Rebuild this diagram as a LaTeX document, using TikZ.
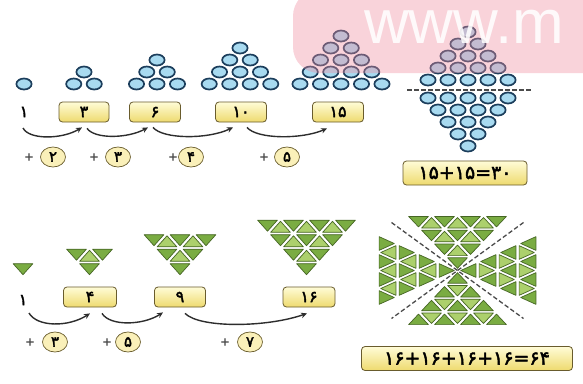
\documentclass[tikz,border=0pt]{standalone}
\usepackage{fontspec}
\usetikzlibrary{arrows.meta,shapes.geometric,calc}
\newfontfamily\pdig{DejaVu Sans}[FakeBold=2.2]
\newfontfamily\wmfont{Liberation Sans}
\definecolor{ballfill}{RGB}{168,218,240}
\definecolor{ballline}{RGB}{28,62,92}
\definecolor{boxtop}{RGB}{255,252,215}
\definecolor{boxbot}{RGB}{238,218,110}
\definecolor{boxline}{RGB}{105,92,45}
\definecolor{tagfill}{RGB}{250,240,185}
\definecolor{arrowc}{RGB}{45,45,45}
\definecolor{gdark}{RGB}{122,172,66}
\definecolor{glight}{RGB}{172,208,108}
\definecolor{gline}{RGB}{70,102,36}
\definecolor{dashc}{RGB}{75,75,75}
\definecolor{wmpink}{RGB}{240,140,160}
\def\TF{0.76}
% one small triangle, shrunk towards its centroid
\newcommand\stri[7]{%
  \pgfmathsetmacro\sAa{#1}\pgfmathsetmacro\sAb{#2}%
  \pgfmathsetmacro\sBa{#3}\pgfmathsetmacro\sBb{#4}%
  \pgfmathsetmacro\sCa{#5}\pgfmathsetmacro\sCb{#6}%
  \pgfmathsetmacro\sMa{(\sAa+\sBa+\sCa)/3}%
  \pgfmathsetmacro\sMb{(\sAb+\sBb+\sCb)/3}%
  \pgfmathsetmacro\sPa{(\sMa)+\TF*((\sAa)-(\sMa))}\pgfmathsetmacro\sPb{(\sMb)+\TF*((\sAb)-(\sMb))}%
  \pgfmathsetmacro\sQa{(\sMa)+\TF*((\sBa)-(\sMa))}\pgfmathsetmacro\sQb{(\sMb)+\TF*((\sBb)-(\sMb))}%
  \pgfmathsetmacro\sRa{(\sMa)+\TF*((\sCa)-(\sMa))}\pgfmathsetmacro\sRb{(\sMb)+\TF*((\sCb)-(\sMb))}%
  \pgfmathsetmacro\xA{\TAx+(\sPa)*(\TUx)+(\sPb)*(\TVx)}\pgfmathsetmacro\yA{\TAy+(\sPa)*(\TUy)+(\sPb)*(\TVy)}%
  \pgfmathsetmacro\xB{\TAx+(\sQa)*(\TUx)+(\sQb)*(\TVx)}\pgfmathsetmacro\yB{\TAy+(\sQa)*(\TUy)+(\sQb)*(\TVy)}%
  \pgfmathsetmacro\xC{\TAx+(\sRa)*(\TUx)+(\sRb)*(\TVx)}\pgfmathsetmacro\yC{\TAy+(\sRa)*(\TUy)+(\sRb)*(\TVy)}%
  \filldraw[#7] (\xA,\yA) -- (\xB,\yB) -- (\xC,\yC) -- cycle;}
% triangle of n^2 small triangles; apex, row vector u, half-width vector v
\newcommand\trilat[7]{%
  \def\TAx{#2}\def\TAy{#3}\def\TUx{#4}\def\TUy{#5}\def\TVx{#6}\def\TVy{#7}%
  \foreach \tj in {1,...,#1}{%
    \pgfmathtruncatemacro\tjm{\tj-1}%
    \foreach \ti in {0,...,\tjm}{%
      \pgfmathsetmacro\tb{-\tj+2*\ti}%
      \stri{\tj}{\tb}{\tj}{\tb+2}{\tj-1}{\tb+1}{gdn}}%
    \ifnum\tj>1
      \pgfmathtruncatemacro\tjmm{\tj-2}%
      \foreach \ti in {0,...,\tjmm}{%
        \pgfmathsetmacro\tb{-\tj+1+2*\ti}%
        \stri{\tj-1}{\tb}{\tj-1}{\tb+2}{\tj}{\tb+1}{gup}}%
    \fi}}
% pyramid of balls: centre x, first row y, n, row step, ball step
\newcommand\pyr[5]{%
  \foreach \pyrk in {1,...,#3}{%
    \pgfmathtruncatemacro\pyrm{#3-\pyrk+1}%
    \foreach \pyri in {1,...,\pyrm}{%
      \path[ball] ({#1+(\pyri-(\pyrm+1)/2)*#5},{#2+(\pyrk-1)*#4}) ellipse [x radius=7.6pt, y radius=5.5pt];}}}
\begin{document}
\begin{tikzpicture}[x=1pt,y=-1pt,
  ball/.style={fill=ballfill,draw=ballline,line width=1.7pt},
  numbox/.style={rounded corners=3.5pt,draw=boxline,line width=0.8pt,top color=boxtop,bottom color=boxbot,
    minimum width=50pt,minimum height=20pt,inner sep=0pt,font=\pdig\fontsize{16}{16}\selectfont},
  eqbox/.style={numbox,minimum height=24pt,font=\pdig\fontsize{19}{19}\selectfont},
  tag/.style={ellipse,draw=boxline,line width=0.7pt,fill=tagfill,minimum width=25pt,minimum height=20pt,
    inner sep=0pt,font=\pdig\fontsize{15}{15}\selectfont},
  plus/.style={inner sep=0pt,text=arrowc,font=\pdig\fontsize{11}{11}\selectfont},
  lbl/.style={inner sep=0pt,font=\pdig\fontsize{16}{16}\selectfont},
  arr/.style={-{Stealth[length=6pt,width=5.5pt]},line width=1.4pt,draw=arrowc},
  cut/.style={dashc,line width=1.3pt,dash pattern=on 4.5pt off 2.5pt},
  gdn/.style={fill=gdark,draw=gline,line width=0.7pt,line join=round},
  gup/.style={fill=glight,draw=gline,line width=0.7pt,line join=round}]
\useasboundingbox (0,0) rectangle (583,383);
\clip (0,0) rectangle (583,383);
\fill[white] (0,0) rectangle (583,383);
% ---------- top row: triangular numbers ----------
\pyr{24}{84}{1}{-12}{20.5}
\pyr{84}{84}{2}{-12}{20.5}
\pyr{157}{84}{3}{-12}{20.5}
\pyr{240}{84}{4}{-12}{20.5}
\pyr{341}{84}{5}{-12}{20.5}
\node[lbl] (t1) at (24,112) {۱};
\node[numbox] (b3) at (84,112) {۳};
\node[numbox,minimum width=51pt] (b6) at (155,112) {۶};
\node[numbox,minimum width=51pt] (b10) at (241,112) {۱۰};
\node[numbox,minimum width=51pt] (b15) at (338,112) {۱۵};
\draw[arr] ($(t1)+(-1,16)$) .. controls +(6,12) and +(-20,12) .. ($(b3.south)+(-2,5)$);
\draw[arr] ($(b3.south)+(3,6)$) .. controls +(8,11) and +(-20,11) .. ($(b6.south)+(-7,5)$);
\draw[arr] ($(b6.south)+(-2,5)$) .. controls +(10,12) and +(-25,12) .. ($(b10.south)+(-8,5)$);
\draw[arr] ($(b10.south)+(6,5)$) .. controls +(10,12) and +(-25,11) .. ($(b15.south)+(-11,6)$);
\node[plus] (p1) at (29,157) {+};   \node[tag] (c1) at (53,157) {۲};
\node[plus] (p2) at (94,157) {+};   \node[tag] (c2) at (118,157) {۳};
\node[plus] (p3) at (173,157) {+};  \node[tag] (c3) at (191,157) {۴};
\node[plus] (p4) at (264,157) {+};  \node[tag] (c4) at (287,157) {۵};
% diamond
\pyr{468}{80}{5}{-12}{20}
\pyr{468}{98}{5}{12}{20}
\coordinate (h1) at (407,90); \coordinate (h2) at (533,90);
\draw[cut] (h1) -- (h2);
\node[eqbox,minimum width=124pt] (e1) at (465,173) {۱۵+۱۵=۳۰};
% ---------- bottom row: square numbers ----------
\trilat{1}{23}{277}{0}{-14.5}{13}{0}
\trilat{2}{89.5}{277}{0}{-14.5}{13}{0}
\trilat{3}{180}{277}{0}{-14.5}{13}{0}
\trilat{4}{306.5}{277}{0}{-14.5}{13}{0}
\node[lbl] (s1) at (23,300) {۱};
\node[numbox,minimum width=53pt] (s4) at (90,297) {۴};
\node[numbox,minimum width=51pt] (s9) at (180,297) {۹};
\node[numbox,minimum width=52pt] (s16) at (309,297) {۱۶};
\draw[arr] ($(s1)+(6,13)$) .. controls +(8,14) and +(-22,14) .. ($(s4.south)+(0,6)$);
\draw[arr] ($(s4.south)+(12,6)$) .. controls +(8,13) and +(-20,13) .. ($(s9.south)+(-17,5)$);
\draw[arr] ($(s9.south)+(5,6)$) .. controls +(15,15) and +(-40,14) .. ($(s16.south)+(-2,6)$);
\node[plus] (q1) at (30,342) {+};   \node[tag] (d1) at (55,342) {۳};
\node[plus] (q2) at (107,342) {+};  \node[tag] (d2) at (128,342) {۵};
\node[plus] (q3) at (225,342) {+};  \node[tag] (d3) at (250,342) {۷};
% four triangles around a centre
\trilat{4}{457.5}{270.5}{0}{-13.8}{13}{0}
\trilat{4}{457.5}{270.5}{0}{13.8}{13}{0}
\trilat{4}{457.5}{270.5}{-20}{0}{0}{9}
\trilat{4}{457.5}{270.5}{20}{0}{0}{9}
\coordinate (x1) at (391.5,222.5); \coordinate (x2) at (523.5,318.5);
\coordinate (x3) at (523.5,222.5); \coordinate (x4) at (391.5,318.5);
\draw[cut] (x1) -- (x2);
\draw[cut] (x3) -- (x4);
\node[eqbox,minimum width=211pt] (e2) at (467,358.5) {۱۶+۱۶+۱۶+۱۶=۶۴};
% ---------- watermark ----------
\fill[wmpink,opacity=0.38,rounded corners=26pt] (293,-10) rectangle (640,73);
\node[anchor=base west,inner sep=0pt,text height=32pt,text depth=0pt,text=white,text opacity=0.88,
  font=\wmfont\fontsize{62}{62}\selectfont] (wm) at (364,43) {www.m};
\end{tikzpicture}
\end{document}
